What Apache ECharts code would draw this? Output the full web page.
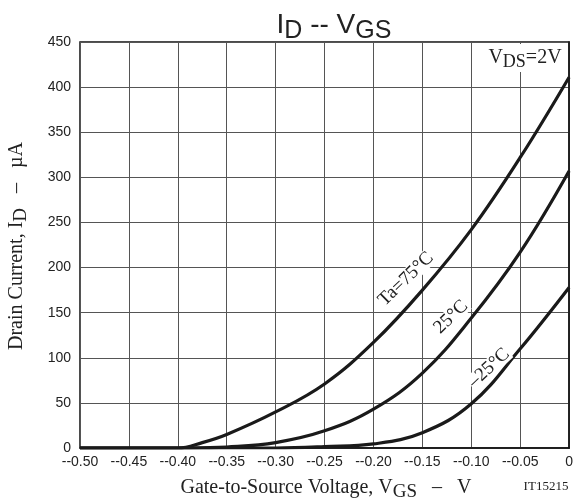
<!DOCTYPE html>
<html>
<head>
<meta charset="utf-8">
<script src="https://cdn.jsdelivr.net/npm/echarts@6/dist/echarts.min.js"></script>
<style>
  html, body { margin: 0; padding: 0; background: #fff; }
  #chart { width: 576px; height: 502px; }
</style>
</head>
<body>
<div id="chart"></div>
<script>
// Gate voltage V_GS (V)
const vgs = [-0.50, -0.45, -0.40, -0.375, -0.35, -0.30, -0.25, -0.20, -0.15, -0.10, -0.05, 0];
// Drain current I_D (µA) at V_DS = 2 V
const idTa75 = [0, 0, 0, 6, 15, 40, 71, 117, 175, 242, 322, 411];
const idTa25 = [0, 0, 0, 0.3, 1, 6, 19, 43, 83, 144, 217, 307];
const idTaM25 = [0, 0, 0, 0, 0, 0, 1.5, 4.5, 17, 49, 110, 178];
const curveLabels = ['Ta=75°C', '25°C', '–25°C'];

const yTicks = [0, 50, 100, 150, 200, 250, 300, 350, 400, 450];

const pairs = arr => vgs.map((v, i) => [v, arr[i]]);

const serif = '"Liberation Serif", "DejaVu Serif", serif';
const sans = '"Liberation Sans", Arial, sans-serif';

function curve(name, data) {
  return {
    name, type: 'line', data: pairs(data),
    smooth: 0.4, showSymbol: false,
    lineStyle: { color: '#1a1a1a', width: 3.2 },
    z: 3
  };
}

function curveLabel(text, x, y, rot) {
  return {
    type: 'text', x, y, rotation: rot, z: 10,
    style: {
      text, fontFamily: serif, fontSize: 19, fill: '#222',
      align: 'center', verticalAlign: 'middle', backgroundColor: '#fff', padding: [0, 1, -2, 1]
    }
  };
}

const chart = echarts.init(document.getElementById('chart'));
chart.setOption({
  animation: false,
  backgroundColor: '#fff',
  title: {
    text: 'I{s|D} -- V{s|GS}',
    left: 329, top: 2, textAlign: 'center',
    textStyle: {
      fontFamily: sans, fontSize: 28, fontWeight: 'normal', color: '#222',
      rich: { s: { fontFamily: sans, fontSize: 25, color: '#222', padding: [12, 0, 0, 0] } }
    }
  },
  grid: { left: 80, right: 5, top: 42, bottom: 54, show: true, borderColor: '#111', borderWidth: 1.5 },
  xAxis: {
    type: 'value', min: -0.5, max: 0, interval: 0.05,
    axisLine: { show: true, lineStyle: { color: '#111', width: 1.5 } },
    axisTick: { show: false },
    axisLabel: {
      margin: 7, fontFamily: sans, fontSize: 14, color: '#222',
      formatter: v => Math.abs(v) < 1e-9 ? '0' : '--' + Math.abs(v).toFixed(2)
    },
    splitLine: { show: true, lineStyle: { color: '#555', width: 1 } }
  },
  yAxis: {
    type: 'value', min: yTicks[0], max: yTicks[yTicks.length - 1], interval: 50,
    axisLine: { show: true, lineStyle: { color: '#111', width: 1.5 } },
    axisTick: { show: false },
    axisLabel: { margin: 9, fontFamily: sans, fontSize: 14, color: '#222' },
    splitLine: { show: true, lineStyle: { color: '#555', width: 1 } }
  },
  series: [
    curve('Ta=75°C', idTa75),
    curve('25°C', idTa25),
    curve('-25°C', idTaM25)
  ],
  graphic: [
    {
      type: 'text', x: 17, y: 246, rotation: Math.PI / 2, z: 10,
      style: {
        text: 'Drain Current, I{s|D}   –   µA', fontFamily: serif, fontSize: 20, fill: '#222',
        align: 'center', verticalAlign: 'middle',
        rich: { s: { fontFamily: serif, fontSize: 19, fill: '#222', padding: [9, 0, 0, 0] } }
      }
    },
    {
      type: 'text', x: 326, y: 488, z: 10,
      style: {
        text: 'Gate-to-Source Voltage, V{s|GS}   –   V', fontFamily: serif, fontSize: 20, fill: '#222',
        align: 'center', verticalAlign: 'middle',
        rich: { s: { fontFamily: serif, fontSize: 19, fill: '#222', padding: [9, 0, 0, 0] } }
      }
    },
    {
      type: 'text', x: 546, y: 487, z: 10,
      style: { text: 'IT15215', fontFamily: serif, fontSize: 13, fill: '#222', align: 'center', verticalAlign: 'middle' }
    },
    {
      type: 'text', x: 525, y: 58, z: 10,
      style: {
        text: 'V{s|DS}=2V', fontFamily: serif, fontSize: 20, fill: '#222',
        align: 'center', verticalAlign: 'middle', backgroundColor: '#fff', padding: [1, 2, 1, 2],
        rich: { s: { fontFamily: serif, fontSize: 18, fill: '#222', padding: [8, 0, 0, 0] } }
      }
    },
    curveLabel(curveLabels[0], 406, 279, 0.77),
    curveLabel(curveLabels[1], 451, 317, 0.77),
    curveLabel(curveLabels[2], 489, 368, 0.75)
  ]
});
</script>
</body>
</html>
